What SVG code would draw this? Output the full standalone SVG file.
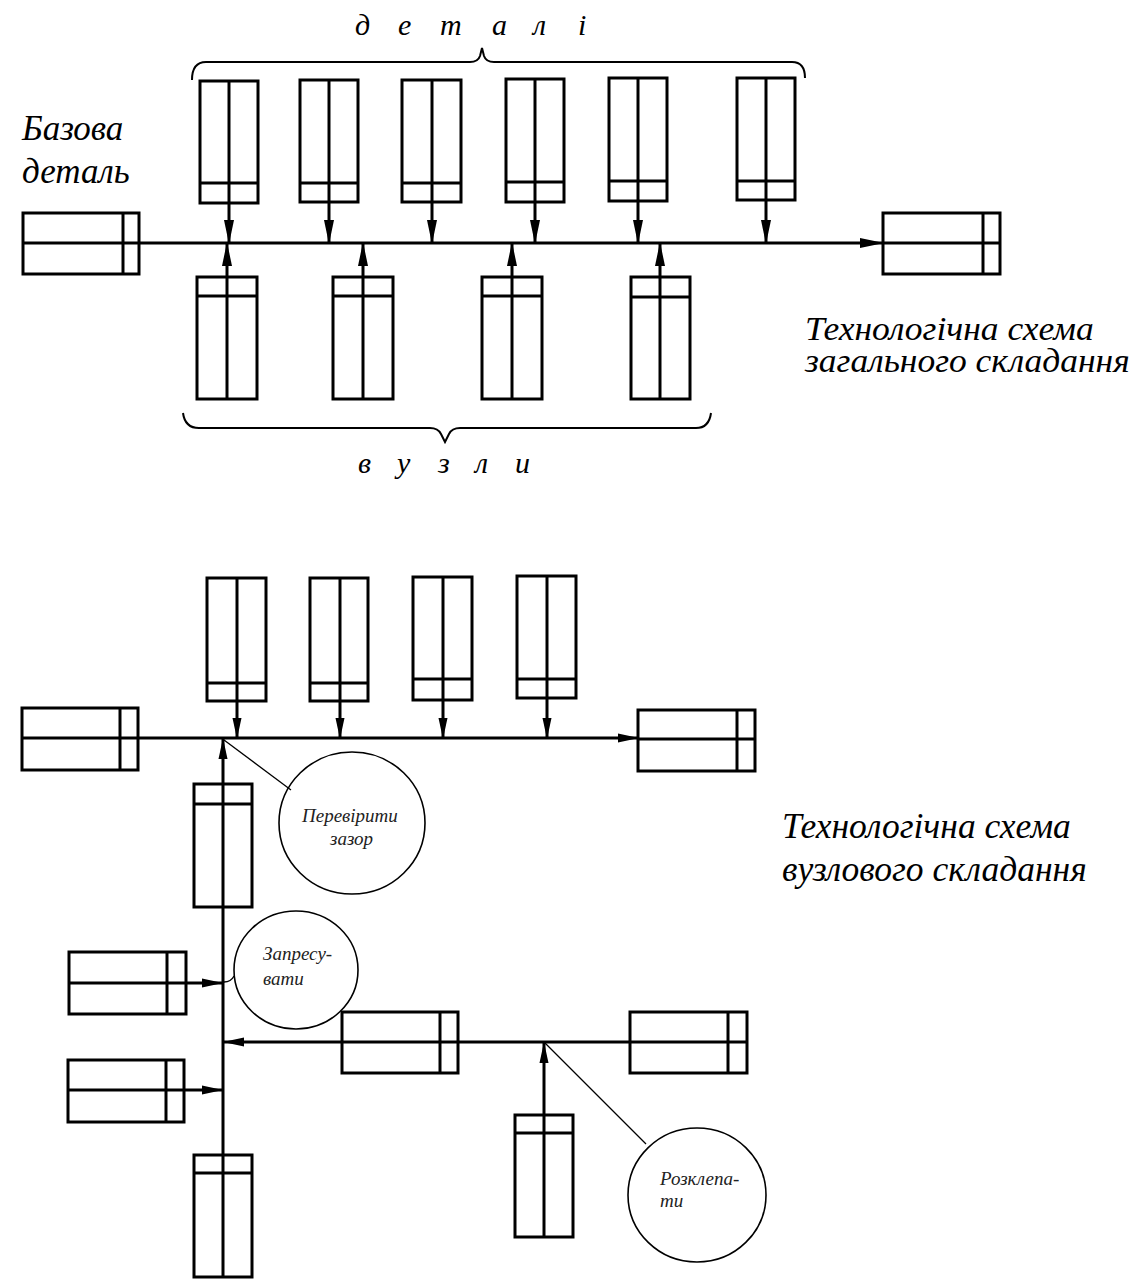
<svg xmlns="http://www.w3.org/2000/svg" width="1137" height="1279" viewBox="0 0 1137 1279">
  <style>
    .box { fill: none; stroke: #000; stroke-width: 3; }
    .div { stroke: #000; stroke-width: 3; }
    .flow { fill: none; stroke: #000; stroke-width: 3; }
    .thin { fill: none; stroke: #000; stroke-width: 1.3; }
    .brace { fill: none; stroke: #000; stroke-width: 2; }
    .op { fill: none; stroke: #000; stroke-width: 1.6; }
    text { fill: #000; font-family: "Liberation Serif", "Times New Roman", serif; font-style: italic; }
    .small { fill: #222; font-size: 19px; }
    .title { font-size: 35.5px; }
  </style>
  <defs>
    <marker id="ah" viewBox="0 0 24 11" refX="23" refY="5.5" markerWidth="24" markerHeight="11" markerUnits="userSpaceOnUse" orient="auto">
      <path d="M0,0.5 L24,5.5 L0,10.5 Z" fill="#000"/>
    </marker>
    <marker id="ahs" viewBox="0 0 21 10" refX="20" refY="5" markerWidth="21" markerHeight="10" markerUnits="userSpaceOnUse" orient="auto">
      <path d="M0,0.5 L21,5 L0,9.5 Z" fill="#000"/>
    </marker>
  </defs>
  <rect width="1137" height="1279" fill="#fff"/>

  <!-- ===== General assembly scheme ===== -->
  <g id="connectors-general">
    <line class="flow" x1="139" y1="243" x2="883" y2="243" marker-end="url(#ah)"/>
    <line class="flow" x1="229" y1="203" x2="229" y2="243" marker-end="url(#ah)"/>
    <line class="flow" x1="329" y1="202" x2="329" y2="243" marker-end="url(#ah)"/>
    <line class="flow" x1="432" y1="202" x2="432" y2="243" marker-end="url(#ah)"/>
    <line class="flow" x1="535" y1="202" x2="535" y2="243" marker-end="url(#ah)"/>
    <line class="flow" x1="638" y1="201" x2="638" y2="243" marker-end="url(#ah)"/>
    <line class="flow" x1="766" y1="200" x2="766" y2="243" marker-end="url(#ah)"/>
    <line class="flow" x1="227" y1="277" x2="227" y2="243" marker-end="url(#ah)"/>
    <line class="flow" x1="363" y1="277" x2="363" y2="243" marker-end="url(#ah)"/>
    <line class="flow" x1="512" y1="277" x2="512" y2="243" marker-end="url(#ah)"/>
    <line class="flow" x1="660" y1="277" x2="660" y2="243" marker-end="url(#ah)"/>
  </g>

  <g id="base-part">
    <rect class="box" x="23" y="213" width="116" height="61"/>
    <line class="div" x1="23" y1="243" x2="139" y2="243"/>
    <line class="div" x1="123" y1="213" x2="123" y2="274"/>
  </g>
  <g id="product">
    <rect class="box" x="883" y="213" width="117" height="61"/>
    <line class="div" x1="883" y1="243" x2="1000" y2="243"/>
    <line class="div" x1="983" y1="213" x2="983" y2="274"/>
  </g>

  <g id="part-1"><rect class="box" x="200" y="81" width="58" height="122"/><line class="div" x1="229" y1="81" x2="229" y2="203"/><line class="div" x1="200" y1="183" x2="258" y2="183"/></g>
  <g id="part-2"><rect class="box" x="300" y="80" width="58" height="122"/><line class="div" x1="329" y1="80" x2="329" y2="202"/><line class="div" x1="300" y1="183" x2="358" y2="183"/></g>
  <g id="part-3"><rect class="box" x="402" y="80" width="59" height="122"/><line class="div" x1="432" y1="80" x2="432" y2="202"/><line class="div" x1="402" y1="183" x2="461" y2="183"/></g>
  <g id="part-4"><rect class="box" x="506" y="79" width="58" height="123"/><line class="div" x1="535" y1="79" x2="535" y2="202"/><line class="div" x1="506" y1="182" x2="564" y2="182"/></g>
  <g id="part-5"><rect class="box" x="609" y="78" width="58" height="123"/><line class="div" x1="638" y1="78" x2="638" y2="201"/><line class="div" x1="609" y1="181" x2="667" y2="181"/></g>
  <g id="part-6"><rect class="box" x="737" y="78" width="58" height="122"/><line class="div" x1="766" y1="78" x2="766" y2="200"/><line class="div" x1="737" y1="181" x2="795" y2="181"/></g>

  <g id="unit-1"><rect class="box" x="197" y="277" width="60" height="122"/><line class="div" x1="227" y1="277" x2="227" y2="399"/><line class="div" x1="197" y1="296" x2="257" y2="296"/></g>
  <g id="unit-2"><rect class="box" x="333" y="277" width="60" height="122"/><line class="div" x1="363" y1="277" x2="363" y2="399"/><line class="div" x1="333" y1="296" x2="393" y2="296"/></g>
  <g id="unit-3"><rect class="box" x="482" y="277" width="60" height="122"/><line class="div" x1="512" y1="277" x2="512" y2="399"/><line class="div" x1="482" y1="296" x2="542" y2="296"/></g>
  <g id="unit-4"><rect class="box" x="631" y="277" width="59" height="122"/><line class="div" x1="660" y1="277" x2="660" y2="399"/><line class="div" x1="631" y1="297" x2="690" y2="297"/></g>

  <!-- braces grouping parts and units -->
  <g id="brace-parts">
    <path class="brace" d="M192,80 Q192,62 206,62 L470,62 Q478,62 480,56 L482,48 L484,56 Q486,62 494,62 L792,62 Q805,62 805,78"/>
    <text font-size="30" x="355 398 440 492 533 578" y="35">деталі</text>
  </g>
  <g id="brace-units">
    <path class="brace" d="M183,413 Q185,428 199,428 L430,428 Q438,428 441,434 L445,442 L449,434 Q452,428 460,428 L696,428 Q709,428 711,413"/>
    <text font-size="30" x="358 397 438 475 515" y="473">вузли</text>
  </g>

  <g id="label-base" font-size="35">
    <text x="22" y="140">Базова</text>
    <text x="22" y="183">деталь</text>
  </g>
  <g id="title-general" transform="translate(805,340) scale(1,0.92)">
    <text class="title" x="0" y="0">Технологічна схема</text>
    <text class="title" x="0" y="35">загального складання</text>
  </g>

  <!-- ===== Unit assembly scheme ===== -->
  <g id="connectors-unit">
    <line class="flow" x1="138" y1="738" x2="638" y2="738" marker-end="url(#ahs)"/>
    <line class="flow" x1="237" y1="701" x2="237" y2="738" marker-end="url(#ahs)"/>
    <line class="flow" x1="340" y1="701" x2="340" y2="738" marker-end="url(#ahs)"/>
    <line class="flow" x1="443" y1="700" x2="443" y2="738" marker-end="url(#ahs)"/>
    <line class="flow" x1="547" y1="698" x2="547" y2="738" marker-end="url(#ahs)"/>
    <line class="flow" x1="223" y1="1277" x2="223" y2="739" marker-end="url(#ahs)"/>
    <line class="flow" x1="186" y1="983" x2="222" y2="983" marker-end="url(#ahs)"/>
    <line class="flow" x1="184" y1="1090" x2="222" y2="1090" marker-end="url(#ahs)"/>
    <line class="flow" x1="747" y1="1042" x2="224" y2="1042" marker-end="url(#ahs)"/>
    <line class="flow" x1="544" y1="1115" x2="544" y2="1043" marker-end="url(#ahs)"/>
    <line class="thin" x1="224" y1="740" x2="291" y2="790"/>
    <path class="thin" d="M224,982 Q231,982 234,976"/>
    <line class="thin" x1="545" y1="1043" x2="646" y2="1144"/>
  </g>

  <g id="unit-base">
    <rect class="box" x="22" y="708" width="116" height="62"/>
    <line class="div" x1="22" y1="738" x2="138" y2="738"/>
    <line class="div" x1="120" y1="708" x2="120" y2="770"/>
  </g>
  <g id="unit-result">
    <rect class="box" x="638" y="710" width="117" height="61"/>
    <line class="div" x1="638" y1="739" x2="755" y2="739"/>
    <line class="div" x1="737" y1="710" x2="737" y2="771"/>
  </g>

  <g id="upart-1"><rect class="box" x="207" y="578" width="59" height="123"/><line class="div" x1="237" y1="578" x2="237" y2="701"/><line class="div" x1="207" y1="683" x2="266" y2="683"/></g>
  <g id="upart-2"><rect class="box" x="310" y="578" width="58" height="123"/><line class="div" x1="340" y1="578" x2="340" y2="701"/><line class="div" x1="310" y1="683" x2="368" y2="683"/></g>
  <g id="upart-3"><rect class="box" x="413" y="577" width="59" height="123"/><line class="div" x1="443" y1="577" x2="443" y2="700"/><line class="div" x1="413" y1="679" x2="472" y2="679"/></g>
  <g id="upart-4"><rect class="box" x="517" y="576" width="59" height="122"/><line class="div" x1="547" y1="576" x2="547" y2="698"/><line class="div" x1="517" y1="679" x2="576" y2="679"/></g>

  <g id="spine-part-1"><rect class="box" x="194" y="784" width="58" height="123"/><line class="div" x1="194" y1="804" x2="252" y2="804"/></g>
  <g id="spine-part-2"><rect class="box" x="194" y="1155" width="58" height="122"/><line class="div" x1="194" y1="1173" x2="252" y2="1173"/></g>

  <g id="side-part-1"><rect class="box" x="69" y="952" width="117" height="62"/><line class="div" x1="69" y1="983" x2="186" y2="983"/><line class="div" x1="167" y1="952" x2="167" y2="1014"/></g>
  <g id="side-part-2"><rect class="box" x="68" y="1060" width="116" height="62"/><line class="div" x1="68" y1="1090" x2="184" y2="1090"/><line class="div" x1="166" y1="1060" x2="166" y2="1122"/></g>

  <g id="sub-part-1"><rect class="box" x="342" y="1012" width="116" height="61"/><line class="div" x1="440" y1="1012" x2="440" y2="1073"/></g>
  <g id="sub-part-2"><rect class="box" x="630" y="1012" width="117" height="61"/><line class="div" x1="728" y1="1012" x2="728" y2="1073"/></g>
  <g id="sub-part-3"><rect class="box" x="515" y="1115" width="58" height="122"/><line class="div" x1="544" y1="1115" x2="544" y2="1237"/><line class="div" x1="515" y1="1133" x2="573" y2="1133"/></g>

  <g id="op-check">
    <ellipse class="op" cx="352" cy="823" rx="73" ry="71"/>
    <text class="small" x="302" y="822">Перевірити</text>
    <text class="small" x="330" y="845">зазор</text>
  </g>
  <g id="op-press">
    <ellipse class="op" cx="296" cy="970" rx="62" ry="59"/>
    <text class="small" x="263" y="960">Запресу-</text>
    <text class="small" x="263" y="985">вати</text>
  </g>
  <g id="op-rivet">
    <ellipse class="op" cx="697" cy="1195" rx="69" ry="67"/>
    <text class="small" x="660" y="1185">Розклепа-</text>
    <text class="small" x="660" y="1207">ти</text>
  </g>

  <g id="title-unit">
    <text class="title" x="782" y="838">Технологічна схема</text>
    <text class="title" x="782" y="881">вузлового складання</text>
  </g>
</svg>
